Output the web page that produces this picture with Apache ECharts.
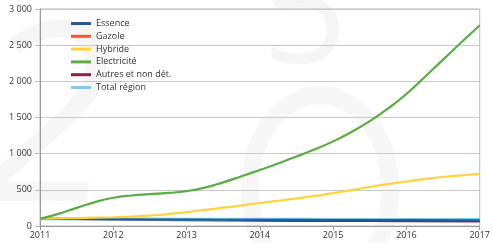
<!DOCTYPE html>
<html>
<head>
<meta charset="utf-8">
<script src="https://cdn.jsdelivr.net/npm/echarts@6/dist/echarts.min.js"></script>
<style>
    html, body { margin: 0; padding: 0; background: #fff; }
    #chart { width: 493px; height: 243px; }
</style>
</head>
<body>
<div id="chart"></div>
<script>
    // trimestres (années décimales)
    var quarters = [2011, 2011.25, 2011.5, 2011.75, 2012, 2012.25, 2012.5, 2012.75, 2013, 2013.25, 2013.5, 2013.75,
        2014, 2014.25, 2014.5, 2014.75, 2015, 2015.25, 2015.5, 2015.75, 2016, 2016.25, 2016.5, 2016.75, 2017];
    var years = [2011, 2012, 2013, 2014, 2015, 2016, 2017];

    var electricite = [100, 168, 250, 330, 390, 422, 440, 457, 482, 530, 603, 688,
        775, 865, 960, 1060, 1170, 1300, 1450, 1625, 1825, 2060, 2300, 2540, 2776];
    var hybride = [100, 105, 110, 115, 121, 130, 145, 165, 193, 222, 253, 285,
        318, 349, 381, 416, 455, 497, 540, 580, 615, 648, 677, 700, 720];
    var essence = [100, 93, 88, 85, 82, 80, 78];
    var gazole = [100, 97, 95, 93, 92, 90, 88];
    var autres = [100, 90, 80, 75, 70, 68, 65];
    var totalRegion = [100, 97, 95, 93, 91, 90, 89];

    var yTicks = [0, 500, 1000, 1500, 2000, 2500, 3000];

    function pairs(xs, ys) {
        return xs.map(function (x, i) { return [x, ys[i]]; });
    }
    function fmtNum(v) {
        return String(v).replace(/\B(?=(\d{3})+(?!\d))/g, ' ');
    }
    function line(name, color, data, width) {
        return {
            name: name,
            type: 'line',
            smooth: 0.5,
            showSymbol: false,
            data: data,
            lineStyle: { color: color, width: width || 2.2 },
            itemStyle: { color: color }
        };
    }

    var myChart = echarts.init(document.getElementById('chart'));
    myChart.setOption({
        animation: false,
        textStyle: { fontFamily: 'Open Sans', color: '#333' },
        graphic: [
            // filigrane "2015" très pâle
            { type: 'text', left: -25, top: 5, z: -10,
              style: { text: '2', font: 'italic 250px "Open Sans"', fill: '#f6f6f6' } },
            { type: 'text', left: 262, top: -55, z: -10,
              style: { text: '5', font: '150px "Open Sans"', fill: '#f5f5f5' } },
            { type: 'ellipse', shape: { cx: 320, cy: 190, rx: 70, ry: 95 }, z: -10,
              style: { fill: 'none', stroke: '#f7f7f7', lineWidth: 18 } }
        ],
        grid: {
            left: 40, right: 9, top: 9, bottom: 17,
            show: true, borderColor: '#bbb', borderWidth: 1
        },
        legend: {
            orient: 'vertical',
            left: 66, top: 14,
            itemWidth: 20, itemHeight: 3,
            itemGap: 3.8,
            icon: 'rect',
            textStyle: { fontSize: 9, color: '#333' },
            data: ['Essence', 'Gazole', 'Hybride', 'Electricité', 'Autres et non dét.', 'Total région']
        },
        xAxis: {
            type: 'value',
            min: 2011, max: 2017, interval: 1,
            axisLine: { show: true, lineStyle: { color: '#999' } },
            axisTick: { show: true, length: 4, lineStyle: { color: '#999' } },
            axisLabel: { fontSize: 9, color: '#333', margin: 5, formatter: function (v) { return String(v); } },
            splitLine: { show: false }
        },
        yAxis: {
            type: 'value',
            min: yTicks[0], max: yTicks[yTicks.length - 1], interval: 500,
            axisLine: { show: true, lineStyle: { color: '#999' } },
            axisTick: { show: true, length: 5, lineStyle: { color: '#bbb' } },
            axisLabel: { fontSize: 9, color: '#333', margin: 8, formatter: fmtNum },
            splitLine: { show: true, lineStyle: { color: '#c8c8c8', width: 1 } }
        },
        series: [
            line('Autres et non dét.', '#8a1f48', pairs(years, autres)),
            line('Gazole', '#f0583a', pairs(years, gazole)),
            line('Total région', '#80c9ee', pairs(years, totalRegion), 3),
            line('Essence', '#1f5c9c', pairs(years, essence)),
            line('Hybride', '#ffd33d', pairs(quarters, hybride)),
            line('Electricité', '#5aac44', pairs(quarters, electricite))
        ]
    });
</script>
</body>
</html>
